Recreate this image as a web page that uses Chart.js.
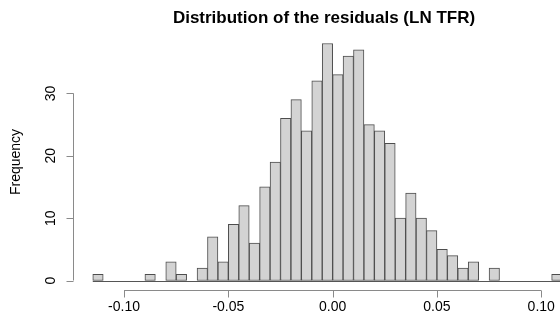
<!DOCTYPE html>
<html>
<head>
<meta charset="utf-8">
<script src="https://cdn.jsdelivr.net/npm/chart.js@4.4.0/dist/chart.umd.min.js"></script>
<style>
  html, body { margin: 0; padding: 0; background: #fff; }
  #wrap { width: 560px; height: 327px; }
</style>
</head>
<body>
<div id="wrap"><canvas id="hist" width="560" height="327"></canvas></div>
<script>
// bin mids (width 0.005) and counts
const binMids = [
    -0.1125, -0.1075, -0.1025, -0.0975, -0.0925, -0.0875, -0.0825, -0.0775, -0.0725,
    -0.0675, -0.0625, -0.0575, -0.0525, -0.0475, -0.0425, -0.0375, -0.0325, -0.0275,
    -0.0225, -0.0175, -0.0125, -0.0075, -0.0025, 0.0025, 0.0075, 0.0125, 0.0175,
    0.0225, 0.0275, 0.0325, 0.0375, 0.0425, 0.0475, 0.0525, 0.0575, 0.0625,
    0.0675, 0.0725, 0.0775, 0.0825, 0.0875, 0.0925, 0.0975, 0.1025, 0.1075
];
const counts = [
    1, 0, 0, 0, 0, 1, 0, 3, 1,
    0, 2, 7, 3, 9, 12, 6, 15, 19,
    26, 29, 24, 32, 38, 33, 36, 37, 25,
    24, 22, 10, 14, 10, 8, 5, 4, 2,
    3, 0, 2, 0, 0, 0, 0, 0, 1
];
const xTicks = [-0.10, -0.05, 0.00, 0.05, 0.10];
const xTickLabels = ['-0.10', '-0.05', '0.00', '0.05', '0.10'];
const yTicks = [0, 10, 20, 30];
const yTickLabels = ['0', '10', '20', '30'];
const binEdges = [-0.115, 0.110];

const titleText = 'Distribution of the residuals (LN TFR)';
const yTitle = 'Frequency';
const FONT = '"Liberation Sans", Arial, Helvetica, sans-serif';

// R-style axes, labels and title drawn via the chart scales
const rAxes = {
    id: 'rAxes',
    beforeDatasetsDraw(chart) {
        const { ctx, scales: { x, y } } = chart;
        ctx.save();
        // zero-height bins show as a line along the base
        ctx.strokeStyle = '#555';
        ctx.lineWidth = 1;
        const y0 = Math.round(y.getPixelForValue(0)) + 0.5;
        ctx.beginPath();
        ctx.moveTo(x.getPixelForValue(binEdges[0]), y0);
        ctx.lineTo(x.getPixelForValue(binEdges[1]), y0);
        ctx.stroke();
        ctx.restore();
    },
    afterDraw(chart) {
        const { ctx, chartArea, scales: { x, y } } = chart;
        ctx.save();
        ctx.strokeStyle = '#8a8a8a';
        ctx.lineWidth = 1;
        ctx.fillStyle = '#000';

        // x axis
        const ax = Math.round(chartArea.bottom) + 0.5;
        ctx.beginPath();
        ctx.moveTo(x.getPixelForValue(xTicks[0]), ax);
        ctx.lineTo(x.getPixelForValue(xTicks[xTicks.length - 1]), ax);
        xTicks.forEach(v => {
            const px = Math.round(x.getPixelForValue(v)) + 0.5;
            ctx.moveTo(px, ax);
            ctx.lineTo(px, ax + 7);
        });
        ctx.stroke();
        ctx.font = '14px ' + FONT;
        ctx.textAlign = 'center';
        ctx.textBaseline = 'middle';
        xTicks.forEach((v, i) => {
            ctx.fillText(xTickLabels[i], x.getPixelForValue(v), ax + 17);
        });

        // y axis
        const ay = Math.round(chartArea.left) - 0.5;
        ctx.beginPath();
        ctx.moveTo(ay, y.getPixelForValue(yTicks[0]));
        ctx.lineTo(ay, y.getPixelForValue(yTicks[yTicks.length - 1]));
        yTicks.forEach(v => {
            const py = Math.round(y.getPixelForValue(v)) + 0.5;
            ctx.moveTo(ay, py);
            ctx.lineTo(ay - 7, py);
        });
        ctx.stroke();
        yTicks.forEach((v, i) => {
            ctx.save();
            ctx.translate(ay - 22, y.getPixelForValue(v));
            ctx.rotate(-Math.PI / 2);
            ctx.fillText(yTickLabels[i], 0, 0);
            ctx.restore();
        });

        // axis title
        ctx.save();
        ctx.font = '14px ' + FONT;
        ctx.translate(16, (chartArea.top + chartArea.bottom) / 2);
        ctx.rotate(-Math.PI / 2);
        ctx.fillText(yTitle, 0, 0);
        ctx.restore();

        // main title
        ctx.font = 'bold 17px ' + FONT;
        ctx.fillText(titleText, 324, 18);
        ctx.restore();
    }
};

new Chart(document.getElementById('hist'), {
    type: 'bar',
    data: {
        datasets: [{
            data: binMids.map((m, i) => ({ x: m, y: counts[i] })),
            backgroundColor: '#d3d3d3',
            borderColor: '#4d4d4d',
            borderWidth: 1,
            borderSkipped: false,
            barPercentage: 1,
            categoryPercentage: 1
        }]
    },
    options: {
        responsive: false,
        animation: false,
        layout: { padding: { left: 74, top: 34, right: 0, bottom: 37 } },
        plugins: {
            legend: { display: false },
            tooltip: { enabled: false },
            title: { display: false }
        },
        scales: {
            x: { type: 'linear', display: false, min: -0.124, max: 0.109, offset: false },
            y: { display: false, min: -1.52, max: 39.52 }
        }
    },
    plugins: [rAxes]
});
</script>
</body>
</html>
